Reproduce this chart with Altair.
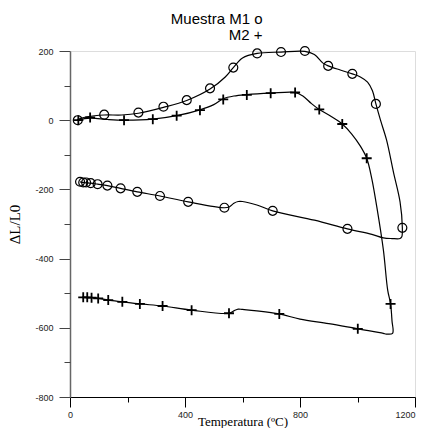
import altair as alt
import pandas as pd

# ---- M1 (circles) curve: heating then cooling
m1_line_x = [25, 60, 119, 180, 238, 325, 406, 487, 540, 568, 600, 651, 734, 817, 850, 880, 898, 940, 982,
             1010, 1035, 1052, 1064, 1080, 1101, 1125, 1148, 1156, 1154, 1148,
             1120, 1090, 1050, 965, 850, 705, 650, 600, 585, 570, 555, 537, 411, 313, 234, 176, 130, 96, 72, 50, 35]
m1_line_y = [2, 10, 15, 15, 20, 37, 57, 90, 125, 152, 180, 193, 197, 199, 190, 165, 157, 145, 134,
             125, 110, 85, 47, 0, -57, -150, -236, -311, -337, -342,
             -342, -340, -330, -314, -289, -262, -245, -235, -235, -240, -250, -253, -236, -219, -207, -197, -189, -185, -182, -180, -178]
m1_mark_x = [27, 119, 238, 325, 406, 487, 568, 651, 734, 817, 898, 982, 1064, 1156,
             35, 46, 56, 72, 96, 130, 176, 234, 313, 411, 537, 705, 965]
m1_mark_y = [0, 16, 22, 39, 58, 92, 152, 193, 197, 200, 157, 134, 47, -311,
             -178, -180, -180, -182, -185, -189, -197, -207, -219, -236, -253, -262, -314]

# ---- M2 (plus) curve: heating then cooling
m2_line_x = [25, 70, 130, 188, 288, 371, 452, 500, 533, 570, 615, 698, 783, 810, 840, 867, 910, 947, 980,
             1010, 1032, 1050, 1067, 1090, 1105, 1115, 1120, 1122,
             1100, 1090, 1001, 900, 800, 728, 650, 600, 585, 570, 553, 423, 322, 243, 182, 133, 98, 75, 46]
m2_line_y = [0, 6, 2, 0, 3, 13, 30, 45, 62, 70, 74, 78, 80, 70, 48, 31, 10, -11, -40,
             -75, -110, -170, -250, -375, -491, -531, -580, -616,
             -618, -616, -603, -588, -575, -560, -551, -547, -546, -551, -558, -549, -537, -531, -525, -520, -515, -513, -512]
m2_mark_x = [29, 70, 188, 288, 371, 452, 533, 615, 698, 783, 867, 947, 1032, 1115,
             46, 60, 75, 98, 133, 182, 243, 322, 423, 553, 728, 1001]
m2_mark_y = [0, 8, 0, 3, 13, 29, 60, 73, 78, 80, 31, -11, -110, -531,
             -512, -512, -513, -515, -520, -525, -531, -537, -549, -558, -560, -603]

x_major = [0, 400, 800, 1200]
x_minor = [200, 600, 1000]
y_major = [-800, -600, -400, -200, 0, 200]
y_minor = [-700, -500, -300, -100, 100]

lines = pd.DataFrame({
    "T": m1_line_x + m2_line_x,
    "dL": m1_line_y + m2_line_y,
    "serie": ["M1"] * len(m1_line_x) + ["M2"] * len(m2_line_x),
    "idx": list(range(len(m1_line_x))) + list(range(len(m2_line_x))),
})
m1 = pd.DataFrame({"T": m1_mark_x, "dL": m1_mark_y})
m2 = pd.DataFrame({"T": m2_mark_x, "dL": m2_mark_y})

xscale = alt.Scale(domain=[0, 1200], nice=False, zero=False)
yscale = alt.Scale(domain=[-800, 200], nice=False, zero=False)

xaxis = alt.Axis(orient="bottom", values=x_major, format="d", tickSize=10,
                 grid=False, domainColor="black", tickColor="black", labelColor="#222",
                 labelFont="Liberation Sans", labelFontSize=9, labelPadding=3, labelFlush=False,
                 labelAlign={"condition": {"test": "datum.value >= 1200", "value": "right"}, "value": "center"},
                 title="Temperatura  (ºC)", titleFont="Liberation Serif", titleFontSize=13,
                 titleFontWeight="normal", titleColor="black",
                 titleBaseline="alphabetic", titleY=28)
yaxis = alt.Axis(orient="left", values=y_major, labelExpr="'' + datum.value", tickSize=11,
                 grid=False, domainColor="#666", domainWidth=1.5, tickColor="#444", labelColor="#222",
                 labelFont="Liberation Sans", labelFontSize=9, labelPadding=6, labelFlush=False,
                 title="ΔL/L0", titleFont="Liberation Serif", titleFontSize=15,
                 titleFontWeight="normal", titleColor="black", titlePadding=12)
xaxis_minor = alt.Axis(orient="bottom", values=x_minor, tickSize=5, labels=False, domain=False,
                       grid=False, tickColor="black", title=None)
yaxis_minor = alt.Axis(orient="left", values=y_minor, tickSize=6, labels=False, domain=False,
                       grid=False, tickColor="#444", title=None)

line = alt.Chart(lines).mark_line(color="black", strokeWidth=1.2, interpolate="catmull-rom").encode(
    x=alt.X("T:Q", scale=xscale, axis=xaxis),
    y=alt.Y("dL:Q", scale=yscale, axis=yaxis),
    detail="serie:N",
    order="idx:Q",
)
circ = alt.Chart(m1).mark_point(shape="circle", filled=False, color="black", size=80, strokeWidth=1.2, opacity=1).encode(
    x=alt.X("T:Q", scale=xscale, axis=xaxis_minor), y=alt.Y("dL:Q", scale=yscale, axis=yaxis_minor))
plus = alt.Chart(m2).mark_point(shape="M-1,0L1,0M0,-1L0,1", filled=False, color="black", size=100,
                                 strokeWidth=1.8, opacity=1).encode(
    x=alt.X("T:Q", scale=xscale, axis=None), y=alt.Y("dL:Q", scale=yscale, axis=None))

chart = alt.layer(line, circ, plus).resolve_axis(x="independent", y="independent").properties(
    width=345, height=346,
    autosize=alt.AutoSizeParams(type="none"),
    padding={"left": 62, "top": 43, "right": 2, "bottom": 31},
    title=alt.TitleParams(text=["Muestra M1 o", "M2 +"], anchor="middle", align="right", dx=20,
                          font="Liberation Sans", fontSize=15, fontWeight="normal", color="black",
                          lineHeight=16.5, offset=1),
).configure_view(stroke=None).configure(background="white")

chart.save("out.html", embed_options={"renderer": "svg", "actions": False})
